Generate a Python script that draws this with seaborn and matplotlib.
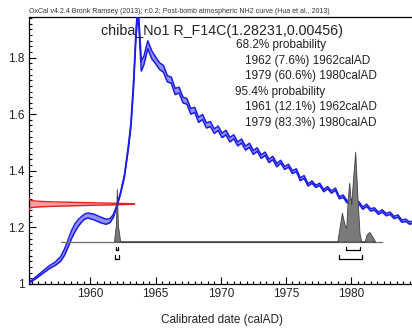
import numpy as np
import pandas as pd
import matplotlib
matplotlib.use("Agg")
import matplotlib.pyplot as plt
import seaborn as sns
from matplotlib.ticker import MultipleLocator, FuncFormatter

# ── calibration curve (post-bomb NH2) ───────────────────────────────────
curve_years = [1955.3, 1955.8, 1956.3, 1956.8, 1957.3, 1957.7, 1958.0, 1958.3,
               1958.55, 1958.8, 1959.05, 1959.3, 1959.55, 1959.8, 1960.3,
               1960.8, 1961.2, 1961.5, 1961.75, 1962.0,
               1962.3, 1962.6, 1962.9, 1963.1, 1963.3, 1963.5, 1963.65, 1963.9,
               1964.1, 1964.4, 1964.7,
               1965.0, 1965.3, 1965.6, 1965.9, 1966.2, 1966.5, 1966.8, 1967.1,
               1967.4, 1967.7, 1968.0, 1968.3, 1968.6, 1968.9, 1969.2, 1969.5,
               1969.8, 1970.1, 1970.4, 1970.7, 1971.0, 1971.3, 1971.6, 1971.9,
               1972.2, 1972.5, 1972.8, 1973.1, 1973.4, 1973.7, 1974.0, 1974.3,
               1974.6, 1974.9, 1975.2, 1975.5, 1975.8, 1976.1, 1976.4, 1976.7,
               1977.0, 1977.3, 1977.6, 1977.9, 1978.2, 1978.5, 1978.8, 1979.1,
               1979.4, 1979.7, 1980.0, 1980.3, 1980.6, 1980.9, 1981.2, 1981.5,
               1981.8, 1982.1, 1982.4, 1982.7, 1983.0, 1983.3, 1983.6, 1983.9,
               1984.2, 1984.5, 1984.8]
curve_f14c = [1.005, 1.022, 1.040, 1.058, 1.072, 1.088, 1.112, 1.145,
              1.175, 1.198, 1.215, 1.228, 1.238, 1.242, 1.236,
              1.226, 1.220, 1.224, 1.240, 1.272,
              1.320, 1.380, 1.480, 1.560, 1.700, 1.890, 1.975, 1.770,
              1.790, 1.845, 1.810,
              1.790, 1.770, 1.760, 1.725, 1.720, 1.680, 1.685, 1.650,
              1.645, 1.610, 1.615, 1.580, 1.590, 1.560, 1.565, 1.540,
              1.550, 1.525, 1.535, 1.510, 1.520, 1.495, 1.505, 1.480,
              1.490, 1.465, 1.475, 1.450, 1.460, 1.435, 1.445, 1.420,
              1.432, 1.410, 1.418, 1.395, 1.402, 1.370, 1.378, 1.350,
              1.360, 1.345, 1.352, 1.330, 1.340, 1.325, 1.335, 1.305,
              1.310, 1.290, 1.295, 1.282, 1.287, 1.268, 1.278, 1.262,
              1.265, 1.250, 1.258, 1.245, 1.250, 1.235, 1.240, 1.222,
              1.225, 1.215, 1.220]
curve_sigma = [0.002, 0.003, 0.004, 0.005, 0.006, 0.008, 0.011, 0.013,
               0.014, 0.014, 0.012, 0.010, 0.009, 0.009, 0.010,
               0.010, 0.009, 0.007, 0.005, 0.003,
               0.003, 0.004, 0.006, 0.008, 0.012, 0.015, 0.015, 0.018,
               0.015, 0.014, 0.014,
               0.012, 0.012, 0.012, 0.011, 0.011, 0.011, 0.010, 0.010,
               0.010, 0.010, 0.009, 0.009, 0.009, 0.009, 0.009, 0.008,
               0.008, 0.008, 0.008, 0.008, 0.007, 0.007, 0.007, 0.007,
               0.007, 0.007, 0.006, 0.006, 0.006, 0.006, 0.006, 0.006,
               0.005, 0.005, 0.005, 0.005, 0.005, 0.005, 0.005, 0.004,
               0.004, 0.004, 0.004, 0.004, 0.004, 0.004, 0.004, 0.004,
               0.004, 0.004, 0.004, 0.004, 0.004, 0.004, 0.004, 0.004,
               0.004, 0.004, 0.004, 0.004, 0.004, 0.004, 0.004, 0.004,
               0.004, 0.004, 0.004]

# ── measurement R_F14C(1.28231, 0.00456) ────────────────────────────────
meas_mu = 1.28231
meas_sd = 0.00456

# ── calibrated probability (height above baseline, F14C units) ──────────
prob_years = [1961.80, 1961.95, 1962.02, 1962.10, 1962.28,
              1978.95, 1979.05, 1979.30, 1979.50, 1979.63, 1979.75, 1979.86,
              1979.95, 1980.02, 1980.15, 1980.32, 1980.50, 1980.65, 1980.78,
              1981.05, 1981.20, 1981.40, 1981.60, 1981.86]
prob_height = [0.0, 0.06, 0.186, 0.06, 0.0,
               0.0, 0.03, 0.102, 0.06, 0.048, 0.15, 0.208,
               0.16, 0.13, 0.22, 0.317, 0.15, 0.03, 0.0,
               0.0, 0.025, 0.034, 0.02, 0.0]
prob_base = 1.150
prob_span = [1957.7, 1982.4]

# ranges (start, end)
range_68 = [(1961.96, 1962.15), (1979.65, 1980.68)]
range_95 = [(1961.89, 1962.20), (1979.09, 1980.81)]

result_lines = [("68.2% probability", 236),
                ("1962 (7.6%) 1962calAD", 245),
                ("1979 (60.6%) 1980calAD", 245),
                ("95.4% probability", 235),
                ("1961 (12.1%) 1962calAD", 245),
                ("1979 (83.3%) 1980calAD", 245)]

sns.set_theme(style="ticks")
plt.rcParams['font.family'] = ['Liberation Sans', 'DejaVu Sans']

W, H = 412, 328
fig = plt.figure(figsize=(W / 100, H / 100), dpi=100)
ax = fig.add_axes([29 / W, (H - 284) / H, 1 - 29 / W, (284 - 16.5) / H])

x0, x1 = 1955.28, 1984.68
y0, y1 = 1.0, 1.945

# red measurement distribution on the y axis
yy = np.linspace(meas_mu - 5 * meas_sd, meas_mu + 5 * meas_sd, 400)
dens = np.exp(-0.5 * ((yy - meas_mu) / meas_sd) ** 2)
ax.fill_betweenx(yy, x0, x0 + 8.1 * dens, color="#f4a0a0", lw=0, zorder=2)
ax.plot(x0 + 8.1 * dens, yy, color="#e82020", lw=1.0, zorder=3)

# calibration curve band
cdf = pd.DataFrame({"year": curve_years, "f": curve_f14c, "s": curve_sigma})
cdf["lo"] = cdf["f"] - cdf["s"]
cdf["hi"] = cdf["f"] + cdf["s"]
ax.fill_between(cdf["year"], cdf["lo"], cdf["hi"], color="#9090f0", lw=0, zorder=4)
sns.lineplot(data=cdf, x="year", y="hi", color="#1c1ce6", lw=1.1, ax=ax, zorder=5, sort=False)
sns.lineplot(data=cdf, x="year", y="lo", color="#1c1ce6", lw=1.1, ax=ax, zorder=5, sort=False)

# calibrated distribution
ax.plot(prob_span, [prob_base, prob_base], color="#707070", lw=0.9, zorder=6)
pdf = pd.DataFrame({"year": prob_years, "h": prob_height})
ax.fill_between(pdf["year"], prob_base, prob_base + pdf["h"],
                color="#7a7a7a", edgecolor="#404040", lw=0.6, zorder=7)

# range brackets
for ranges, ybar, tick in [(range_68, 1.120, 0.012), (range_95, 1.0885, 0.015)]:
    for a, b in ranges:
        ax.plot([a, a, b, b], [ybar + tick, ybar, ybar, ybar + tick],
                color="black", lw=0.9, zorder=8)

ax.set_xlim(x0, x1)
ax.set_ylim(y0, y1)
ax.xaxis.set_major_locator(MultipleLocator(5))
ax.xaxis.set_minor_locator(MultipleLocator(0.5))
ax.yaxis.set_major_locator(MultipleLocator(0.2))
ax.yaxis.set_minor_locator(MultipleLocator(0.02))
ax.yaxis.set_major_formatter(FuncFormatter(lambda v, p: f"{v:g}"))
ax.tick_params(which="both", direction="in", color="black", width=0.8,
               labelsize=8.5, labelcolor="#222222")
ax.tick_params(which="major", length=5, pad=3)
ax.tick_params(which="minor", length=2.5)
ax.set_xlabel("")
ax.set_ylabel("")
for side in ["left", "bottom", "top"]:
    ax.spines[side].set_color("black")
    ax.spines[side].set_linewidth(0.9)
ax.spines["right"].set_visible(False)
ax.set_facecolor("white")

# texts
def ftext(px, py, s, **kw):
    fig.text(px / W, 1 - py / H, s, **kw)

ftext(29, 11.5, "OxCal v4.2.4 Bronk Ramsey (2013); r:0.2; Post-bomb atmospheric NH2 curve (Hua et al., 2013)",
      fontsize=5, ha="left", va="center", color="#333333")
ftext(221.5, 31, "chiba_No1 R_F14C(1.28231,0.00456)", fontsize=10.3,
      ha="center", va="center", color="#222222")
for i, (s, px) in enumerate(result_lines):
    ftext(px, 45 + i * 15.6, s, fontsize=8.5, ha="left", va="center", color="#222222")
ftext(222, 320, "Calibrated date (calAD)", fontsize=8.5, ha="center", va="center",
      color="#222222")

fig.savefig("out.png", dpi=100)
